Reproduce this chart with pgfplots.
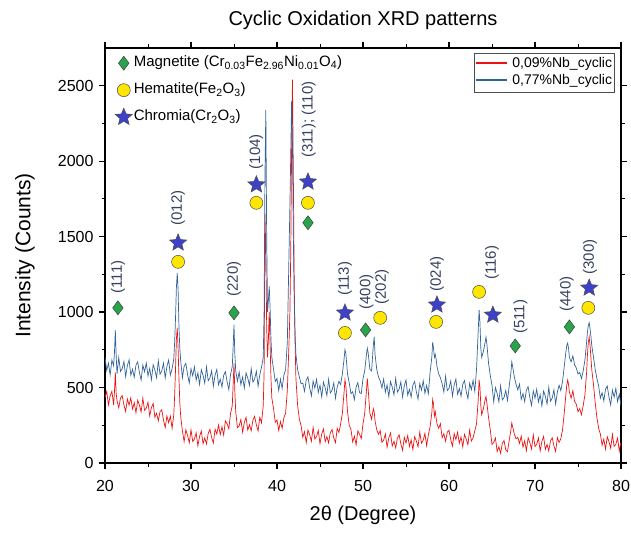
\documentclass[border=0pt]{standalone}
\usepackage{fontspec}
\setmainfont{Liberation Sans}
\usepackage{pgfplots}
\usepackage{pgfplotstable}
\pgfplotsset{compat=1.18}
\definecolor{cred}{RGB}{235,20,20}
\definecolor{cblue}{RGB}{50,100,155}
\definecolor{mgreen}{RGB}{40,165,75}
\definecolor{hyellow}{RGB}{255,230,0}
\definecolor{sblue}{RGB}{60,65,200}
\definecolor{lblcol}{RGB}{55,65,95}
\pgfdeclareplotmark{fstar}{%
  \pgfpathmoveto{\pgfpointpolar{90}{\pgfplotmarksize}}%
  \pgfpathlineto{\pgfpointpolar{126}{0.45\pgfplotmarksize}}%
  \pgfpathlineto{\pgfpointpolar{162}{\pgfplotmarksize}}%
  \pgfpathlineto{\pgfpointpolar{198}{0.45\pgfplotmarksize}}%
  \pgfpathlineto{\pgfpointpolar{234}{\pgfplotmarksize}}%
  \pgfpathlineto{\pgfpointpolar{270}{0.45\pgfplotmarksize}}%
  \pgfpathlineto{\pgfpointpolar{306}{\pgfplotmarksize}}%
  \pgfpathlineto{\pgfpointpolar{342}{0.45\pgfplotmarksize}}%
  \pgfpathlineto{\pgfpointpolar{18}{\pgfplotmarksize}}%
  \pgfpathlineto{\pgfpointpolar{54}{0.45\pgfplotmarksize}}%
  \pgfpathclose\pgfusepathqfillstroke}
\pgfplotstableread{
x r b
20.0 436 700
20.2 474 613
20.4 385 661
20.6 445 584
20.8 475 682
21.0 386 645
21.1 470 730
21.2 600 880
21.3 460 710
21.4 412 591
21.6 366 699
21.8 430 607
22.0 447 625
22.2 385 673
22.4 341 572
22.6 424 645
22.8 384 684
23.0 432 582
23.2 358 621
23.4 399 569
23.6 333 648
23.8 416 671
24.0 384 600
24.2 339 550
24.4 429 649
24.6 350 604
24.8 364 663
25.0 403 577
25.2 311 627
25.4 368 552
25.6 395 651
25.8 303 616
26.0 330 565
26.2 280 677
26.4 340 588
26.6 353 610
26.8 285 662
27.0 235 563
27.2 312 640
27.4 267 682
27.6 310 583
27.8 230 625
28.0 320 690
28.1 450 800
28.2 620 960
28.3 820 1160
28.4 895 1260
28.5 760 1150
28.6 560 900
28.7 400 760
28.8 310 680
29.0 213 565
29.2 142 640
29.4 220 660
29.6 183 585
29.8 134 530
30.0 220 625
30.2 143 578
30.4 159 636
30.6 200 549
30.8 114 597
31.0 177 520
31.2 212 618
31.4 128 581
31.6 166 529
31.8 126 637
32.0 196 545
32.2 223 563
32.4 169 611
32.6 133 509
32.8 224 582
33.0 192 620
33.2 251 518
33.4 188 556
33.6 240 504
33.8 185 582
34.0 279 605
34.2 259 536
34.4 227 486
34.6 330 587
34.8 380 640
34.9 520 770
35.0 660 915
35.1 470 720
35.2 340 610
35.4 234 543
35.6 246 603
35.8 289 519
36.0 204 570
36.2 269 496
36.4 303 597
36.6 219 563
36.8 254 514
37.0 213 625
37.2 284 536
37.4 309 557
37.6 252 608
37.8 213 509
38.0 302 585
38.2 267 635
38.4 380 700
38.5 600 1000
38.6 1650 1900
38.7 1400 2340
38.8 900 1500
38.9 700 1000
39.0 820 1080
39.1 1000 1170
39.2 780 1020
39.3 560 820
39.4 430 700
39.6 360 620
39.8 270 540
40.0 285 560
40.2 215 480
40.4 275 555
40.6 230 495
40.8 300 580
41.0 330 620
41.2 480 800
41.4 800 1400
41.5 1000 1700
41.6 1400 2050
41.7 2100 2400
41.8 2540 2100
41.9 1900 1500
42.0 1200 1100
42.1 800 850
42.2 560 720
42.4 380 620
42.6 290 570
42.8 247 525
43.0 170 530
43.2 208 475
43.4 135 550
43.6 218 571
43.8 187 498
44.0 144 445
44.2 236 543
44.4 159 496
44.6 175 554
44.8 216 467
45.0 128 515
45.2 192 438
45.4 226 536
45.6 141 499
45.8 175 447
46.0 133 555
46.2 201 464
46.4 222 482
46.6 167 531
46.8 135 429
47.0 230 503
47.2 202 541
47.4 260 520
47.6 330 590
47.8 470 690
47.9 550 750
48.0 520 730
48.1 430 660
48.2 340 590
48.4 250 530
48.6 222 460
48.8 140 472
49.0 178 420
49.2 121 504
49.4 213 533
49.6 190 467
49.8 162 460
50.0 260 560
50.2 330 610
50.4 480 720
50.5 560 760
50.6 490 730
50.8 330 620
51.0 290 610
51.2 360 780
51.3 340 835
51.4 280 720
51.6 220 620
51.8 190 570
52.0 215 545
52.2 137 498
52.4 152 556
52.6 192 469
52.8 105 517
53.0 167 440
53.2 199 539
53.4 112 503
53.6 144 452
53.8 100 561
54.0 166 470
54.2 187 489
54.4 127 538
54.6 85 437
54.8 170 511
55.0 132 550
55.2 182 449
55.4 110 488
55.6 153 437
55.8 89 516
56.0 174 540
56.2 147 472
56.4 108 424
56.6 204 526
56.8 131 483
57.0 151 545
57.2 196 462
57.4 114 514
57.6 187 460
57.8 240 600
58.0 330 700
58.1 420 800
58.2 390 760
58.3 310 700
58.4 340 720
58.5 300 690
58.6 260 640
58.8 230 590
59.0 261 565
59.2 168 525
59.4 194 470
59.6 144 575
59.8 204 480
60.0 217 495
60.2 155 544
60.4 112 443
60.6 195 517
60.8 156 556
61.0 204 455
61.2 131 494
61.4 172 443
61.6 107 522
61.8 190 546
62.0 159 475
62.2 121 427
62.4 218 529
62.6 146 486
62.8 167 548
63.0 213 475
63.2 260 620
63.4 420 880
63.5 550 1015
63.6 500 930
63.7 380 760
63.8 320 700
64.0 360 740
64.2 420 800
64.3 440 835
64.4 400 790
64.6 300 660
64.8 220 580
65.0 123 515
65.2 137 405
65.4 166 500
65.6 76 460
65.8 108 406
66.0 64 512
66.2 130 418
66.4 149 434
66.6 87 480
66.8 75 415
67.0 150 510
67.2 220 600
67.3 265 670
67.4 240 640
67.6 190 570
67.8 160 520
68.0 170 485
68.2 130 523
68.4 178 421
68.6 105 460
68.8 147 407
69.0 83 484
69.2 167 506
69.4 136 434
69.6 93 381
69.8 186 478
70.0 109 430
70.2 125 489
70.4 166 404
70.6 80 453
70.8 143 378
71.0 176 477
71.2 90 442
71.4 123 391
71.6 80 501
71.8 147 410
72.0 167 430
72.2 113 485
72.4 77 390
72.6 168 470
72.8 136 515
73.0 160 480
73.2 220 540
73.4 330 640
73.6 460 740
73.7 520 780
73.8 550 795
73.9 520 760
74.0 470 700
74.2 430 670
74.4 480 710
74.6 410 650
74.8 390 630
75.0 340 590
75.2 360 600
75.4 320 560
75.6 380 610
75.8 450 680
76.0 600 800
76.1 720 870
76.2 800 910
76.3 835 930
76.4 780 890
76.5 700 840
76.6 620 780
76.8 520 700
77.0 400 620
77.2 300 560
77.4 230 510
77.6 192 430
77.8 118 466
78.0 158 412
78.2 92 488
78.4 174 510
78.6 142 437
78.8 98 385
79.0 189 483
79.2 110 436
79.4 125 494
79.6 165 407
79.8 79 456
80.0 142 380
}\xrd
\begin{document}
\begin{tikzpicture}
\begin{axis}[name=ax, scale only axis, width=516pt, height=415pt,
  xmin=20, xmax=80, ymin=0, ymax=2750,
  xtick={20,30,...,80}, ytick={0,500,...,2500},
  minor x tick num=1, minor y tick num=1,
  tick align=outside, xtick pos=both, ytick pos=both,
  xticklabel pos=lower, yticklabel pos=left,
  major tick length=6pt, minor tick length=3.5pt,
  axis line style={line width=1.2pt},
  every tick/.append style={black, line width=1.2pt},
  every minor tick/.append style={black, line width=1.0pt},
  /pgf/number format/assume math mode=true,
  /pgf/number format/1000 sep={},
  ticklabel style={font=\fontsize{16}{18}\selectfont},
  xticklabel shift=8pt, yticklabel shift=2pt,
  xlabel={2θ (Degree)}, ylabel={Intensity (Counts)},
  xlabel style={at={(axis description cs:0.5,0)}, anchor=center, yshift=-52pt, font=\fontsize{20}{22}\selectfont},
  ylabel style={at={(axis description cs:-0.155,0.5)}, anchor=center, font=\fontsize{21}{23}\selectfont},
  title={Cyclic Oxidation XRD patterns},
  title style={at={(axis description cs:0.5,1)}, anchor=center, yshift=22pt, font=\fontsize{20}{22}\selectfont},
]
\addplot[draw=cred, line width=0.7pt] table[x=x, y=r] {\xrd};
\addplot[draw=cblue, line width=0.7pt] table[x=x, y=b] {\xrd};
\node[draw=black!70, line width=0.6pt, fill=white, anchor=north east, inner sep=2.5pt,
  font=\fontsize{14}{17}\selectfont] at (rel axis cs:0.988,0.988)
  {\begin{tabular}{@{}l@{\hspace{5pt}}l@{}}
   \textcolor{cred}{\rule[4pt]{31pt}{1.2pt}} & 0,09\%Nb\_cyclic\\
   \textcolor{cblue}{\rule[4pt]{31pt}{1.2pt}} & 0,77\%Nb\_cyclic
   \end{tabular}};
\end{axis}
\begin{axis}[scale only axis, width=516pt, height=415pt,
  xmin=20, xmax=80, ymin=0, ymax=2750, hide axis, clip=false,
  legend style={at={(0,1)}, anchor=north west, draw=none, fill=none, xshift=7pt, yshift=-4pt,
    font=\fontsize{15}{17}\selectfont, row sep=9pt, nodes={inner sep=1.5pt, text height=11pt, text depth=4pt}},
  legend cell align=left,
]
\addplot[only marks, mark=diamond*, mark size=7pt, mark options={fill=mgreen, draw=black!75, line width=0.5pt}]
  coordinates {(21.5,1028) (35.0,995) (43.6,1592) (50.3,882) (67.7,776) (74.0,902)};
\addlegendentry{Magnetite (Cr\textsubscript{0.03}Fe\textsubscript{2.96}Ni\textsubscript{0.01}O\textsubscript{4})}
\addplot[only marks, mark=*, mark size=6.5pt, mark options={fill=hyellow, draw=black!70, line width=0.5pt}]
  coordinates {(28.5,1333) (37.6,1724) (43.6,1724) (47.9,862) (52.0,962) (58.5,935) (63.5,1134) (76.2,1028)};
\addlegendentry{Hematite(Fe\textsubscript{2}O\textsubscript{3})}
\addplot[only marks, mark=fstar, mark size=9pt, mark options={fill=sblue, draw=black!70, line width=0.5pt}]
  coordinates {(28.5,1459) (37.6,1844) (43.6,1863) (47.9,995) (58.6,1048) (65.1,981) (76.3,1160)};
\addlegendentry{Chromia(Cr\textsubscript{2}O\textsubscript{3})}
\begin{scope}[every node/.style={rotate=90, anchor=center, text=lblcol, font=\fontsize{15}{17}\selectfont}]
\node at (axis cs:21.5,1233) {(111)};
\node at (axis cs:28.5,1690) {(012)};
\node at (axis cs:35.0,1220) {(220)};
\node at (axis cs:37.6,2062) {(104)};
\node at (axis cs:43.7,2275) {(311); (110)};
\node at (axis cs:47.9,1220) {(113)};
\node at (axis cs:50.4,1134) {(400)};
\node at (axis cs:52.2,1167) {(202)};
\node at (axis cs:58.6,1253) {(024)};
\node at (axis cs:65.0,1326) {(116)};
\node at (axis cs:68.3,968) {(511)};
\node at (axis cs:73.7,1120) {(440)};
\node at (axis cs:76.4,1366) {(300)};
\end{scope}
\end{axis}
\pgfresetboundingbox
\path[use as bounding box] ([shift={(-105pt,-69pt)}]ax.south west) rectangle ([shift={(10pt,48pt)}]ax.north east);
\end{tikzpicture}
\end{document}
